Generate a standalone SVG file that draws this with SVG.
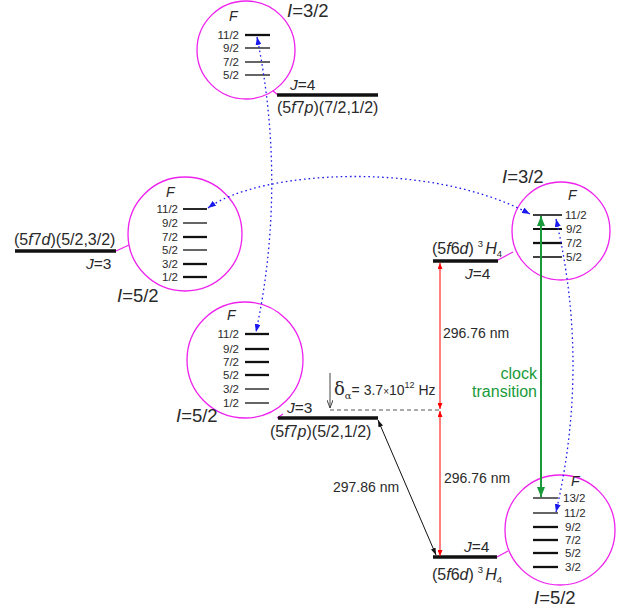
<svg xmlns="http://www.w3.org/2000/svg" width="633" height="612" viewBox="0 0 633 612">
<style>
text{font-family:"Liberation Sans",Arial,sans-serif;fill:#2a2a2a}
.lv{font-size:11.5px}
.lb{font-size:14px}
.st{font-size:16px}
.jj{font-size:15.5px}
.big{font-size:18.5px}
.i{font-style:italic}
.circ{fill:none;stroke:#ee22ee;stroke-width:1.3}
.mag{stroke:#ee22ee;stroke-width:1.2}
.lvl{stroke:#111;stroke-width:1.3}
.lvt{stroke:#111;stroke-width:2.3}
.main{stroke:#111;stroke-width:3.5}
.blue{fill:none;stroke:#1a1aee;stroke-width:1.3;stroke-dasharray:1.6,3}
</style>
<defs>
<marker id="ab" viewBox="0 0 8 6" refX="8" refY="3" markerWidth="8" markerHeight="6" markerUnits="userSpaceOnUse" orient="auto-start-reverse"><path d="M0,0L8,3L0,6z" fill="#1a1aee"/></marker>
<marker id="ar" viewBox="0 0 6 5" refX="6" refY="2.5" markerWidth="6" markerHeight="5" markerUnits="userSpaceOnUse" orient="auto-start-reverse"><path d="M0,0L6,2.5L0,5z" fill="#ff0000"/></marker>
<marker id="ag" viewBox="0 0 10 8" refX="10" refY="4" markerWidth="10" markerHeight="8" markerUnits="userSpaceOnUse" orient="auto-start-reverse"><path d="M0,0L10,4L0,8z" fill="#1a9a3a"/></marker>
<marker id="ak" viewBox="0 0 7 5" refX="7" refY="2.5" markerWidth="7" markerHeight="5" markerUnits="userSpaceOnUse" orient="auto-start-reverse"><path d="M0,0L7,2.5L0,5z" fill="#111"/></marker>
<marker id="ad" viewBox="0 0 6 8" refX="3" refY="8" markerWidth="6" markerHeight="8" markerUnits="userSpaceOnUse" orient="0"><path d="M0,0L3,8L6,0" fill="none" stroke="#444" stroke-width="1"/></marker>
</defs>

<g id="state-5f7p-72-12">
<circle class="circ" cx="246" cy="50" r="49"/>
<text class="lb i" x="229" y="21">F</text>
<line class="lvt" x1="245" y1="35" x2="270" y2="35"/>
<line class="lvl" x1="245" y1="48" x2="270" y2="48"/>
<line class="lvl" x1="245" y1="62" x2="270" y2="62"/>
<line class="lvl" x1="245" y1="75" x2="270" y2="75"/>
<g class="lv" text-anchor="end">
<text x="239" y="39">11/2</text><text x="239" y="52">9/2</text><text x="239" y="66">7/2</text><text x="239" y="79">5/2</text>
</g>
<text class="big" x="287" y="17"><tspan class="i">I</tspan>=3/2</text>
<line class="mag" x1="273" y1="91" x2="278" y2="95"/>
<line class="main" x1="277" y1="95" x2="378" y2="95"/>
<text class="jj" x="290" y="90"><tspan class="i">J</tspan>=4</text>
<text class="st" x="277" y="113">(5<tspan class="i">f</tspan>7<tspan class="i">p</tspan>)(7/2,1/2)</text>
</g>

<g id="state-5f7d-52-32">
<circle class="circ" cx="185" cy="234" r="57"/>
<text class="lb i" x="166" y="197">F</text>
<line class="lvl" style="stroke-width:1.8" x1="183" y1="209" x2="207" y2="209"/>
<line class="lvl" x1="183" y1="223" x2="207" y2="223"/>
<line class="lvt" x1="183" y1="237" x2="207" y2="237"/>
<line class="lvl" x1="183" y1="250" x2="207" y2="250"/>
<line class="lvt" x1="183" y1="264" x2="207" y2="264"/>
<line class="lvt" x1="183" y1="277" x2="207" y2="277"/>
<g class="lv" text-anchor="end">
<text x="178" y="213">11/2</text><text x="178" y="227">9/2</text><text x="178" y="241">7/2</text><text x="178" y="254">5/2</text><text x="178" y="268">3/2</text><text x="178" y="281">1/2</text>
</g>
<line class="main" x1="15" y1="251" x2="116" y2="251"/>
<line class="mag" x1="116" y1="251" x2="129" y2="245"/>
<text class="st" x="14" y="245">(5<tspan class="i">f</tspan>7<tspan class="i">d</tspan>)(5/2,3/2)</text>
<text class="jj" x="86" y="269"><tspan class="i">J</tspan>=3</text>
<text class="big" x="117" y="302"><tspan class="i">I</tspan>=5/2</text>
</g>

<g id="state-5f7p-52-12">
<circle class="circ" cx="245" cy="360" r="58"/>
<text class="lb i" x="227" y="320">F</text>
<line class="lvt" x1="245" y1="334" x2="269" y2="334"/>
<line class="lvt" x1="245" y1="349" x2="269" y2="349"/>
<line class="lvt" x1="245" y1="362" x2="269" y2="362"/>
<line class="lvt" x1="245" y1="375" x2="269" y2="375"/>
<line class="lvl" x1="245" y1="389" x2="269" y2="389"/>
<line class="lvl" x1="245" y1="403" x2="269" y2="403"/>
<g class="lv" text-anchor="end">
<text x="239" y="338">11/2</text><text x="239" y="353">9/2</text><text x="239" y="366">7/2</text><text x="239" y="379">5/2</text><text x="239" y="393">3/2</text><text x="239" y="407">1/2</text>
</g>
<line class="mag" x1="277" y1="418" x2="283" y2="414"/>
<line class="main" x1="278" y1="418" x2="378" y2="418"/>
<text class="jj" x="287" y="413"><tspan class="i">J</tspan>=3</text>
<text class="st" x="270" y="437">(5<tspan class="i">f</tspan>7<tspan class="i">p</tspan>)(5/2,1/2)</text>
<text class="big" x="176" y="422"><tspan class="i">I</tspan>=5/2</text>
</g>

<g id="state-5f6d-upper">
<circle class="circ" cx="561" cy="231" r="49"/>
<text class="lb i" x="568" y="200">F</text>
<line class="lvl" style="stroke-width:1.6" x1="533" y1="215" x2="562" y2="215"/>
<line class="lvl" style="stroke-width:2" x1="533" y1="229" x2="562" y2="229"/>
<line class="lvt" x1="533" y1="243" x2="562" y2="243"/>
<line class="lvl" style="stroke-width:1.6" x1="533" y1="257" x2="562" y2="257"/>
<g class="lv">
<text x="565" y="219">11/2</text><text x="566" y="233">9/2</text><text x="566" y="247">7/2</text><text x="566" y="261">5/2</text>
</g>
<text class="big" x="502" y="183"><tspan class="i">I</tspan>=3/2</text>
<line class="main" x1="433" y1="261" x2="498" y2="261"/>
<line class="mag" x1="498" y1="260" x2="513" y2="252"/>
<text class="st" x="432" y="254">(5<tspan class="i">f</tspan>6<tspan class="i">d</tspan>)<tspan font-size="9.5" dx="4" dy="-7">3</tspan><tspan class="i" dx="2" dy="7">H</tspan><tspan font-size="9.5" dy="3">4</tspan></text>
<text class="jj" x="465" y="279"><tspan class="i">J</tspan>=4</text>
</g>

<g id="state-5f6d-lower">
<circle class="circ" cx="560" cy="530" r="55"/>
<text class="lb i" x="571" y="486">F</text>
<line class="lvl" x1="533" y1="498" x2="558" y2="498"/>
<line class="lvl" x1="533" y1="513" x2="558" y2="513"/>
<line class="lvt" x1="533" y1="527" x2="558" y2="527"/>
<line class="lvt" x1="533" y1="540" x2="558" y2="540"/>
<line class="lvt" x1="533" y1="553" x2="558" y2="553"/>
<line class="lvt" x1="533" y1="567" x2="558" y2="567"/>
<g class="lv">
<text x="563" y="502">13/2</text><text x="564" y="517">11/2</text><text x="565" y="531">9/2</text><text x="565" y="544">7/2</text><text x="565" y="557">5/2</text><text x="565" y="571">3/2</text>
</g>
<line class="main" x1="433" y1="557" x2="497" y2="557"/>
<line class="mag" x1="497" y1="557" x2="508" y2="551"/>
<text class="jj" x="464" y="552"><tspan class="i">J</tspan>=4</text>
<text class="st" x="432" y="580">(5<tspan class="i">f</tspan>6<tspan class="i">d</tspan>)<tspan font-size="9.5" dx="4" dy="-7">3</tspan><tspan class="i" dx="2" dy="7">H</tspan><tspan font-size="9.5" dy="3">4</tspan></text>
<text class="big" x="534" y="604"><tspan class="i">I</tspan>=5/2</text>
</g>

<g id="connectors">
<path class="blue" d="M257,37 Q287,185 256,332" marker-start="url(#ab)" marker-end="url(#ab)"/>
<path class="blue" d="M208,208 C260,170 430,160 530,214" marker-start="url(#ab)" marker-end="url(#ab)"/>
<path class="blue" d="M556,219 Q590,365 556,512" marker-start="url(#ab)" marker-end="url(#ab)"/>
<line x1="541" y1="216" x2="541" y2="497" stroke="#1a9a3a" stroke-width="2" marker-start="url(#ag)" marker-end="url(#ag)"/>
<line x1="440" y1="263" x2="440" y2="409" stroke="#ff0000" stroke-width="1" marker-start="url(#ar)" marker-end="url(#ar)"/>
<line x1="440" y1="411" x2="440" y2="556" stroke="#ff0000" stroke-width="1" marker-start="url(#ar)" marker-end="url(#ar)"/>
<line x1="378" y1="420" x2="436" y2="555" stroke="#111" stroke-width="1" marker-start="url(#ak)" marker-end="url(#ak)"/>
<line x1="330" y1="410" x2="440" y2="410" stroke="#555" stroke-width="1" stroke-dasharray="4,3"/>
<line x1="330" y1="373" x2="330" y2="408" stroke="#444" stroke-width="1" marker-end="url(#ad)"/>
</g>

<g id="labels">
<text class="lb" x="443" y="338">296.76 nm</text>
<text class="lb" x="444" y="483">296.76 nm</text>
<text class="lb" x="333" y="492">297.86 nm</text>
<text class="st" x="537" y="379" text-anchor="end" style="fill:#1a9a3a">clock</text>
<text class="st" x="537" y="397" text-anchor="end" style="fill:#1a9a3a">transition</text>
<text x="334" y="395" font-size="14"><tspan font-family="'DejaVu Serif',serif" font-size="18">δ</tspan><tspan font-family="'DejaVu Serif',serif" font-size="10" dy="4">α</tspan><tspan dy="-4">= 3.7</tspan><tspan font-size="10">×</tspan>10<tspan font-size="9" dy="-7">12</tspan><tspan dy="7"> Hz</tspan></text>
</g>
</svg>
